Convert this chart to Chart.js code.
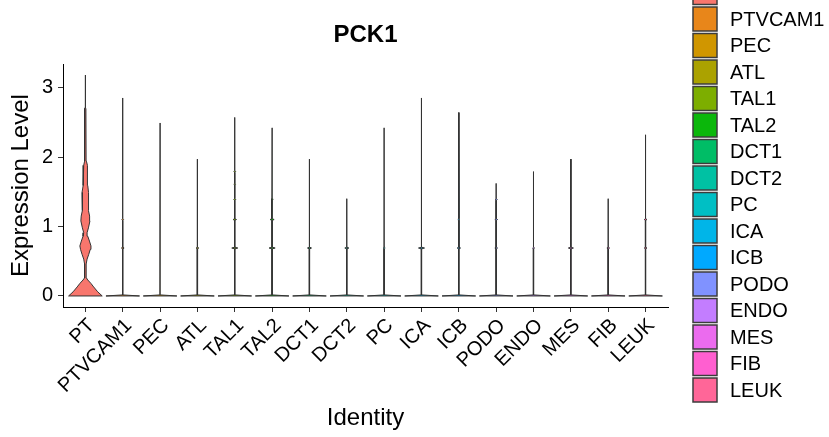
<!DOCTYPE html>
<html>
<head>
<meta charset="utf-8">
<script src="https://cdn.jsdelivr.net/npm/chart.js@4/dist/chart.umd.min.js"></script>
<style>
  body { margin: 0; background: #fff; }
</style>
</head>
<body>
<canvas id="myChart" width="829" height="437"></canvas>
<script>
const categories = ['PT', 'PTVCAM1', 'PEC', 'ATL', 'TAL1', 'TAL2', 'DCT1', 'DCT2', 'PC', 'ICA', 'ICB', 'PODO', 'ENDO', 'MES', 'FIB', 'LEUK'];
const maxExpr = [3.18, 2.85, 2.49, 1.97, 2.57, 2.42, 1.97, 1.40, 2.42, 2.85, 2.64, 1.62, 1.79, 1.97, 1.40, 2.32];
// PT density profile: expression level and relative half width
const ptLevels = [0, 0.06, 0.13, 0.18, 0.23, 0.26, 0.37, 0.46, 0.53, 0.60, 0.67, 0.72, 0.79, 0.86, 0.91, 0.98, 1.08, 1.15, 1.23, 1.32, 1.42, 1.49, 1.59, 1.69, 1.81, 1.88, 1.94, 2.00, 2.70, 2.72, 3.18];
const ptDensity = [1, 0.73, 0.49, 0.33, 0.14, 0.06, 0.04, 0.05, 0.10, 0.20, 0.29, 0.33, 0.24, 0.14, 0.10, 0.18, 0.27, 0.25, 0.18, 0.16, 0.20, 0.20, 0.14, 0.14, 0.12, 0.10, 0.06, 0.04, 0.03, 0.01, 0.01];
// other groups: small density bumps at the discrete levels
const bumpLevels = [0.69, 1.10, 1.39, 1.61, 1.79];
const bumpDensity = [
    [0, 0, 0, 0, 0],
    [0.08, 0.05, 0, 0, 0],
    [0, 0, 0, 0, 0],
    [0.08, 0, 0, 0, 0],
    [0.18, 0.10, 0.06, 0.05, 0.05],
    [0.18, 0.12, 0.06, 0, 0],
    [0.12, 0, 0, 0, 0],
    [0.12, 0, 0, 0, 0],
    [0.06, 0, 0, 0, 0],
    [0.18, 0, 0, 0, 0],
    [0.10, 0.06, 0, 0, 0],
    [0.08, 0.08, 0.06, 0, 0],
    [0.06, 0, 0, 0, 0],
    [0.15, 0, 0, 0, 0],
    [0.08, 0, 0, 0, 0],
    [0.08, 0.08, 0, 0, 0]
];
const colors = ['#F8766D', '#E8861A', '#D09600', '#ABA200', '#7DAE00', '#0BB70B', '#00BD66', '#00C1A3',
    '#00BFC4', '#00B5E8', '#00A9FF', '#8092FF', '#C37DFF', '#EB6BEE', '#FF5FD0', '#FF6698'];

const halfWidth = 0.45;
const fontFamily = '"Liberation Sans", Arial, sans-serif';

//builds the outline of one violin from its density profile
const profile = (i) => {
    if (i === 0) {
        return ptLevels.map((l, k) => [l, ptDensity[k]]);
    }
    const pts = [[0, 1], [0.015, 0.01]];
    bumpLevels.forEach((l, k) => {
        const w = bumpDensity[i][k];
        if (w > 0 && l < maxExpr[i]) {
            pts.push([l - 0.012, 0.01], [l, w], [l + 0.012, 0.01]);
        }
    });
    pts.push([maxExpr[i], 0.005]);
    return pts;
};
const polygon = (i) => {
    const p = profile(i);
    const cx = i + 1;
    const right = p.map(([y, w]) => ({ x: cx + w * halfWidth, y: y }));
    const left = p.slice().reverse().map(([y, w]) => ({ x: cx - w * halfWidth, y: y }));
    const pts = right.concat(left);
    pts.push(pts[0]);
    return pts;
};

//legend drawn at the right, first key cut by the top edge
const legendPlugin = {
    id: 'sideLegend',
    afterDraw(chart) {
        const c = chart.ctx;
        c.save();
        categories.forEach((name, i) => {
            const top = 7 + (i - 1) * 26.5;
            c.fillStyle = colors[i];
            c.fillRect(693, top, 24, 24);
            c.strokeStyle = '#3c3c3c';
            c.lineWidth = 1.5;
            c.strokeRect(693, top, 24, 24);
            c.fillStyle = '#000';
            c.font = '20px ' + fontFamily;
            c.textBaseline = 'middle';
            c.textAlign = 'left';
            c.fillText(name, 730, top + 13);
        });
        c.restore();
    }
};

const ctx = document.getElementById('myChart').getContext('2d');
const myChart = new Chart(ctx, {
    type: 'line',
    data: {
        datasets: categories.map((name, i) => ({
            label: name,
            data: polygon(i),
            borderColor: '#333333',
            borderWidth: 1,
            backgroundColor: colors[i],
            fill: 'shape',
            pointRadius: 0,
            tension: 0
        }))
    },
    options: {
        responsive: false,
        animation: false,
        devicePixelRatio: 1,
        layout: { padding: { left: 0, right: 161, top: 0, bottom: 0 } },
        plugins: {
            legend: { display: false },
            tooltip: { enabled: false },
            title: {
                display: true,
                text: 'PCK1',
                fullSize: false,
                color: '#000',
                font: { family: fontFamily, size: 24, weight: 'bold' },
                padding: { top: 21, bottom: 14.2 }
            }
        },
        scales: {
            x: {
                type: 'linear',
                min: 0.4,
                max: 16.6,
                afterBuildTicks: (scale) => {
                    scale.ticks = categories.map((c, i) => ({ value: i + 1 }));
                },
                afterFit: (scale) => { scale.height = 130; },
                ticks: {
                    autoSkip: false,
                    minRotation: 45,
                    maxRotation: 45,
                    padding: 2,
                    labelOffset: 6,
                    color: '#000',
                    font: { family: fontFamily, size: 20 },
                    callback: (v) => categories[v - 1]
                },
                grid: { drawOnChartArea: false, drawTicks: true, tickLength: 5, color: '#333' },
                border: { display: true, color: '#000', width: 1 },
                title: {
                    display: true,
                    text: 'Identity',
                    color: '#000',
                    font: { family: fontFamily, size: 24 },
                    padding: { top: 0, bottom: 4 }
                }
            },
            y: {
                type: 'linear',
                min: -0.159,
                max: 3.339,
                afterBuildTicks: (scale) => {
                    scale.ticks = [0, 1, 2, 3].map(v => ({ value: v }));
                },
                afterFit: (scale) => { scale.width = 63; },
                ticks: {
                    padding: 5,
                    color: '#000',
                    font: { family: fontFamily, size: 20 }
                },
                grid: { drawOnChartArea: false, drawTicks: true, tickLength: 5, color: '#333' },
                border: { display: true, color: '#000', width: 1 },
                title: {
                    display: true,
                    text: 'Expression Level',
                    color: '#000',
                    font: { family: fontFamily, size: 24 },
                    padding: { top: 7, bottom: 0 }
                }
            }
        }
    },
    plugins: [legendPlugin]
});
</script>
</body>
</html>
